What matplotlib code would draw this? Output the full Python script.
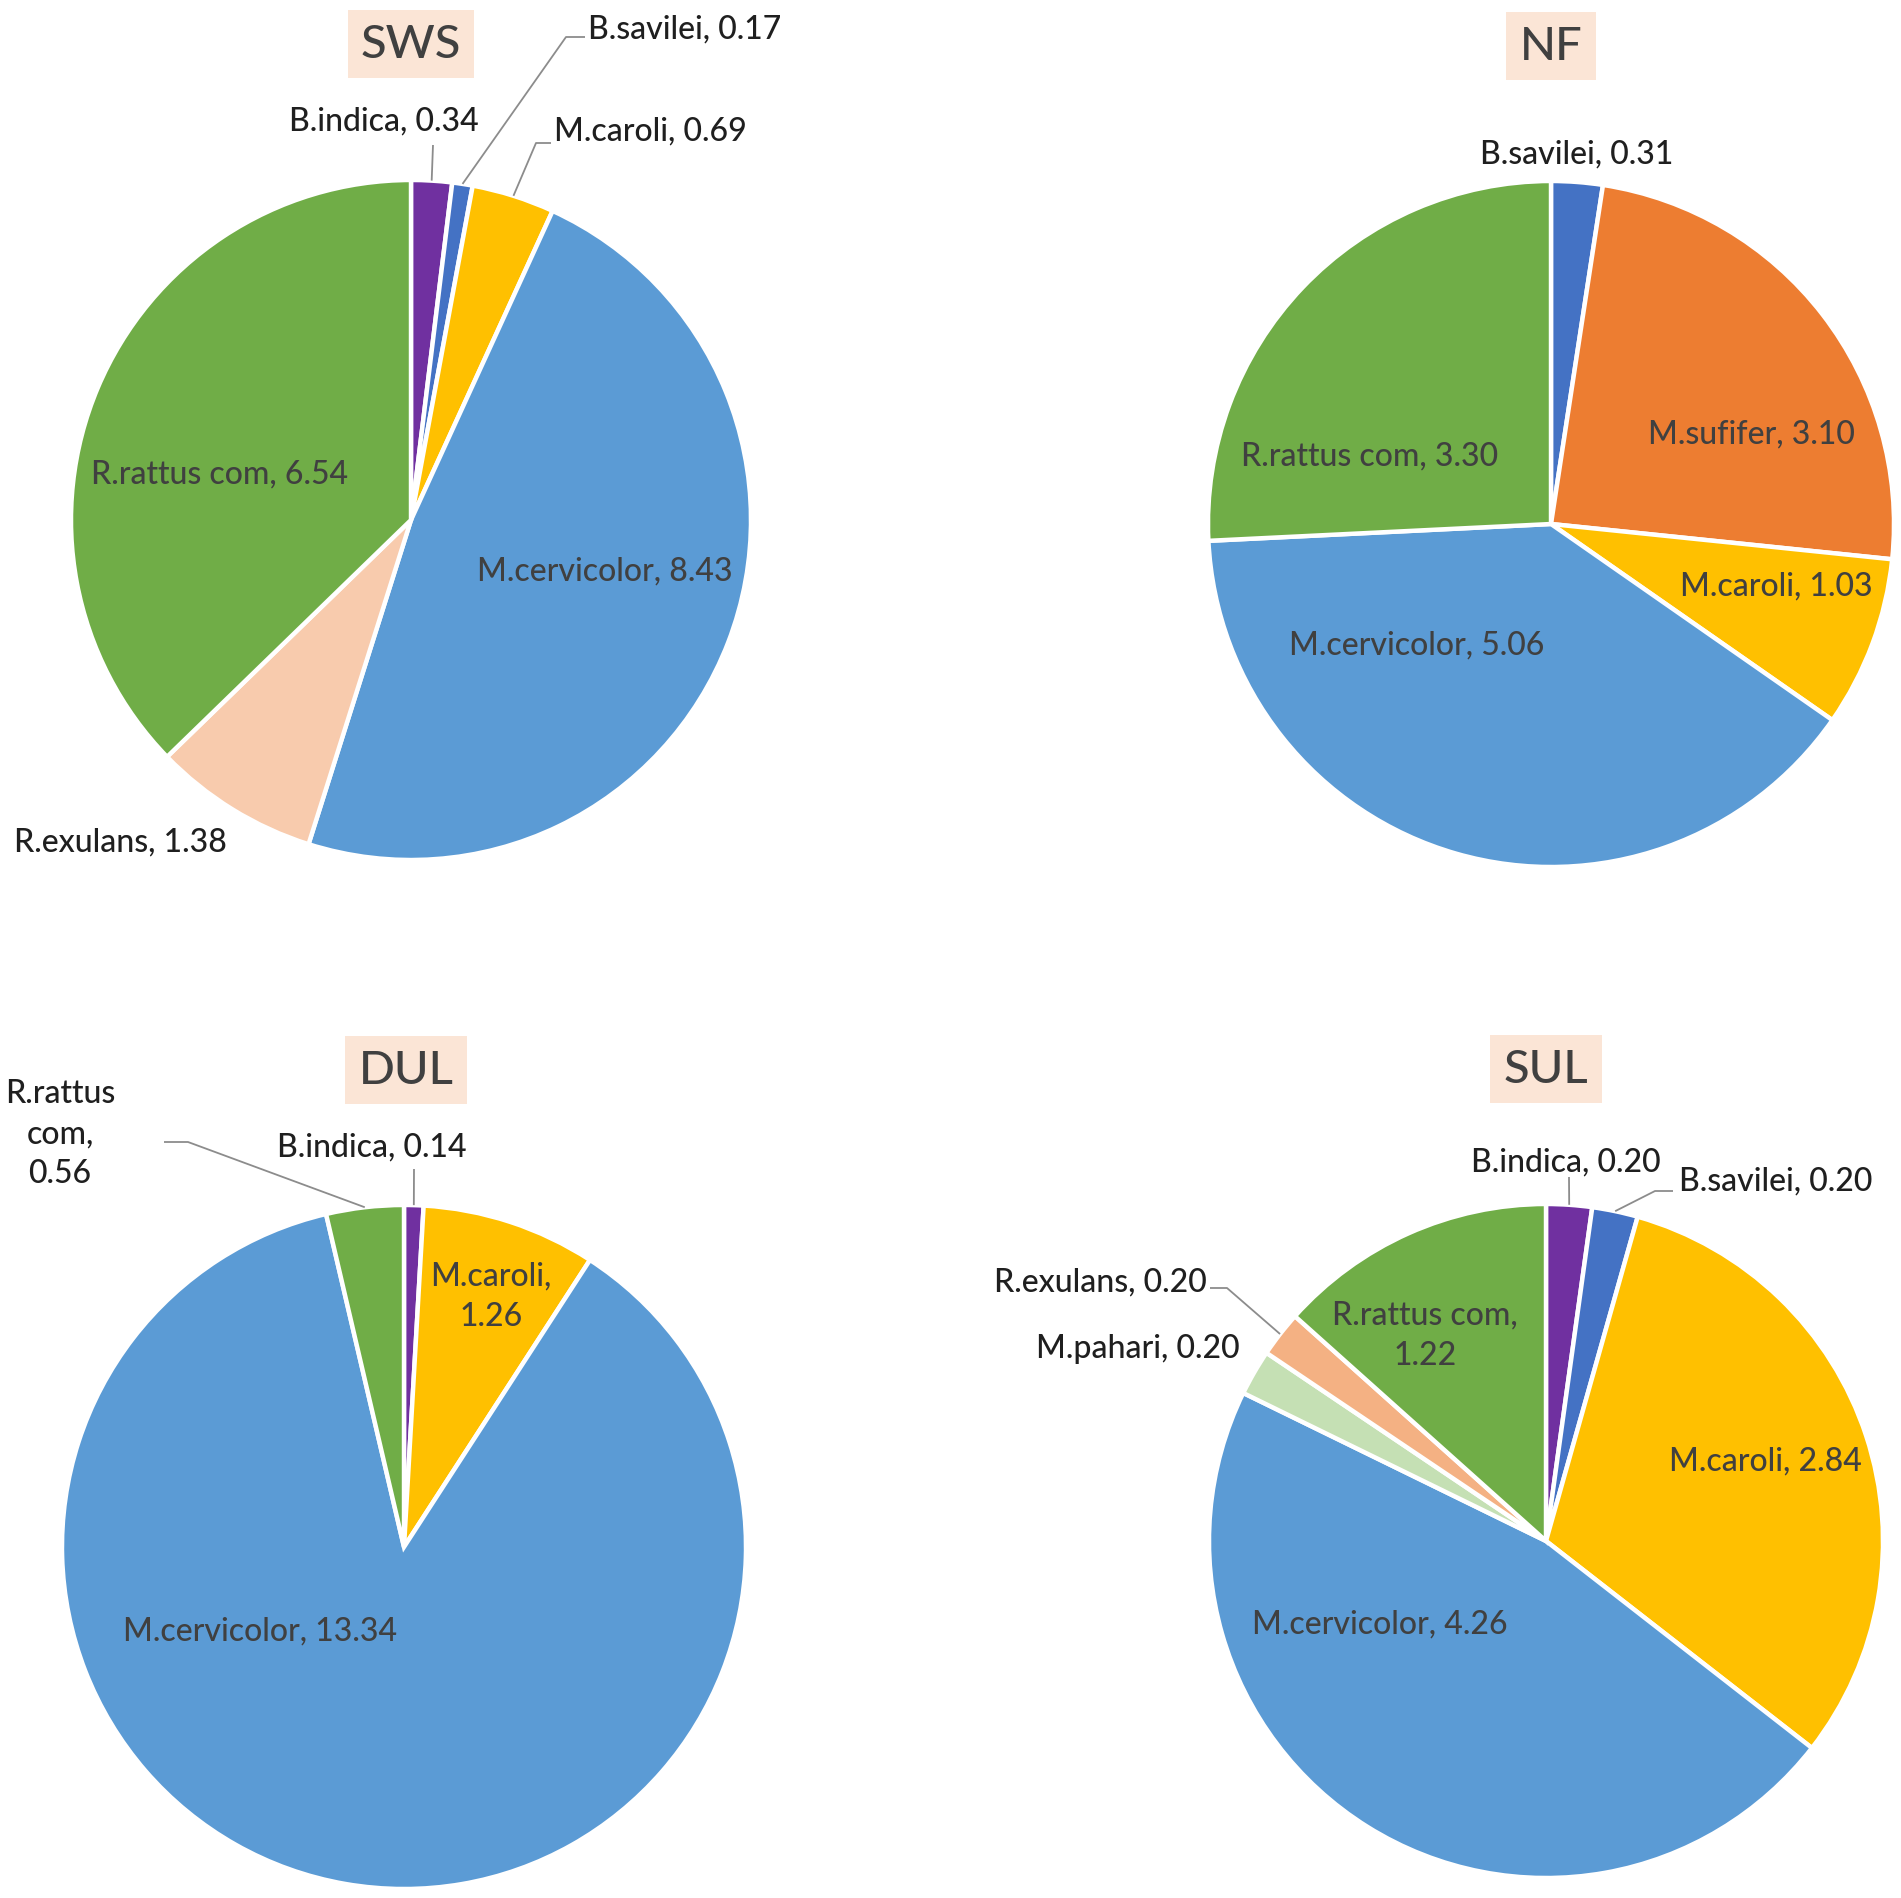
import numpy as np
import matplotlib.pyplot as plt

W, H = 1901, 1899  # output size in pixels, data coords = pixels

plt.rcParams['font.family'] = ['Lato', 'DejaVu Sans']

# species and values per site, listed clockwise from 12 o'clock
sws_species = ['B.indica', 'B.savilei', 'M.caroli', 'M.cervicolor', 'R.exulans', 'R.rattus com']
sws_values = [0.34, 0.17, 0.69, 8.43, 1.38, 6.54]

nf_species = ['B.savilei', 'M.sufifer', 'M.caroli', 'M.cervicolor', 'R.rattus com']
nf_values = [0.31, 3.10, 1.03, 5.06, 3.30]

dul_species = ['B.indica', 'M.caroli', 'M.cervicolor', 'R.rattus com']
dul_values = [0.14, 1.26, 13.34, 0.56]

sul_species = ['B.indica', 'B.savilei', 'M.caroli', 'M.cervicolor', 'M.pahari', 'R.exulans', 'R.rattus com']
sul_values = [0.20, 0.20, 2.84, 4.26, 0.20, 0.20, 1.22]

sws_colors = ['#7030A0', '#4472C4', '#FFC000', '#5B9BD5', '#F8CBAD', '#70AD47']
nf_colors = ['#4472C4', '#ED7D31', '#FFC000', '#5B9BD5', '#70AD47']
dul_colors = ['#7030A0', '#FFC000', '#5B9BD5', '#70AD47']
sul_colors = ['#7030A0', '#4472C4', '#FFC000', '#5B9BD5', '#C5E0B4', '#F4B183', '#70AD47']

# layout: pie centre / radius in px (y from top), label anchor, wrap style,
# inside or outside, and leader line bend points (px)
pies = [
    dict(title='SWS', title_xy=(411, 45), center=(411, 521), r=340,
         species=sws_species, values=sws_values, colors=sws_colors,
         labels=[((384, 121), 'line', False, [(433, 146)]),
                 ((685, 29), 'line', False, [(566, 38), (585, 38)]),
                 ((650, 131), 'line', False, [(536, 144), (551, 144)]),
                 ((605, 571), 'line', True, None),
                 ((120, 842), 'line', False, None),
                 ((220, 474), 'line', True, None)]),
    dict(title='NF', title_xy=(1551, 47), center=(1551, 525), r=343,
         species=nf_species, values=nf_values, colors=nf_colors,
         labels=[((1577, 154), 'line', False, None),
                 ((1751, 434), 'line', True, None),
                 ((1776, 586), 'line', True, None),
                 ((1417, 645), 'line', True, None),
                 ((1370, 456), 'line', True, None)]),
    dict(title='DUL', title_xy=(406, 1071), center=(404, 1548), r=342,
         species=dul_species, values=dul_values, colors=dul_colors,
         labels=[((372, 1147), 'line', False, [(414, 1170)]),
                 ((491, 1297), 'two', True, None),
                 ((260, 1631), 'line', True, None),
                 ((60, 1134), 'three', False, [(188, 1143), (164, 1143)])]),
    dict(title='SUL', title_xy=(1546, 1070), center=(1546, 1542), r=337,
         species=sul_species, values=sul_values, colors=sul_colors,
         labels=[((1566, 1162), 'line', False, [(1569, 1178)]),
                 ((1776, 1181), 'line', False, [(1655, 1192), (1673, 1192)]),
                 ((1765, 1461), 'line', True, None),
                 ((1380, 1624), 'line', True, None),
                 ((1138, 1349), 'line', False, None),
                 ((1100, 1282), 'line', False, [(1227, 1289), (1210, 1289)]),
                 ((1425, 1336), 'two', True, None)]),
]


def label_text(name, val, style):
    if style == 'two':
        return '%s,\n%.2f' % (name, val)
    if style == 'three':
        return '%s,\n%.2f' % (name.replace(' ', '\n'), val)
    return '%s, %.2f' % (name, val)


fig = plt.figure(figsize=(W / 100, H / 100), dpi=100)
ax = fig.add_axes([0, 0, 1, 1])

for p in pies:
    cx, cy = p['center'][0], H - p['center'][1]
    res = ax.pie(p['values'], colors=p['colors'], startangle=90, counterclock=False,
                 center=(cx, cy), radius=p['r'],
                 wedgeprops=dict(edgecolor='white', linewidth=3.2))
    wedges = res[0]

    tx, ty = p['title_xy']
    ax.text(tx, H - ty, p['title'], fontsize=34, fontweight='medium', color='#404040',
            ha='center', va='center',
            bbox=dict(boxstyle='square,pad=0.28', fc='#FBE5D6', ec='none'))

    for w, name, val, (xy, style, inside, leader) in zip(wedges, p['species'], p['values'], p['labels']):
        ax.text(xy[0], H - xy[1], label_text(name, val, style), fontsize=23, fontweight='medium',
                color='#404040' if inside else '#1f1f1f', ha='center', va='center',
                multialignment='center', linespacing=1.42)
        if leader:
            mid = np.deg2rad((w.theta1 + w.theta2) / 2)
            xs = [cx + p['r'] * np.cos(mid)] + [q[0] for q in leader]
            ys = [cy + p['r'] * np.sin(mid)] + [H - q[1] for q in leader]
            ax.plot(xs, ys, color='#8c8c8c', lw=1.3, solid_capstyle='butt')

ax.set_xlim(0, W)
ax.set_ylim(0, H)
ax.set_aspect('equal')
ax.axis('off')

fig.savefig('out.png', dpi=100, facecolor='white')
